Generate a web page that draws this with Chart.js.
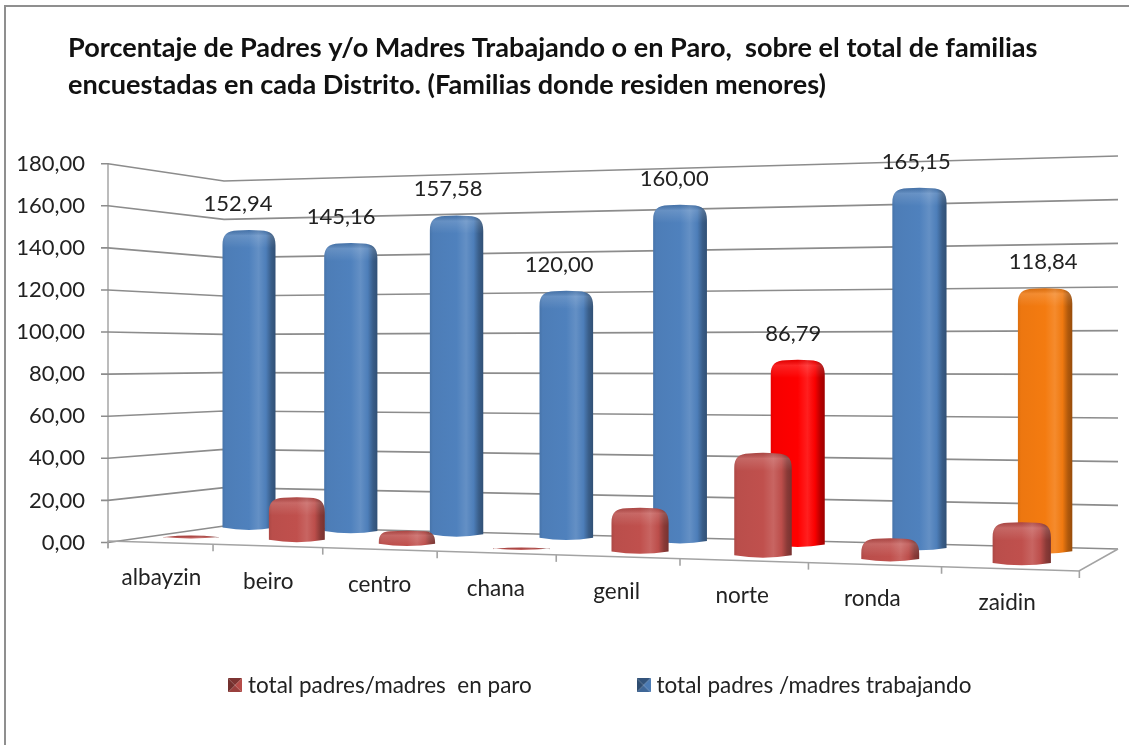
<!DOCTYPE html>
<html><head><meta charset="utf-8">
<style>html,body{margin:0;padding:0;background:#fff}canvas{display:block}</style>
<script src="https://cdn.jsdelivr.net/npm/chart.js@4/dist/chart.umd.min.js"></script>
</head><body><canvas id="c" width="1129" height="745"></canvas>
<script>
const titleLines = ["Porcentaje de Padres y/o Madres Trabajando o en Paro,  sobre el total de familias","encuestadas en cada Distrito. (Familias donde residen menores)"];
const categories = ["albayzin","beiro","centro","chana","genil","norte","ronda","zaidin"];
const paroLabel = "total padres/madres  en paro";
const trabajandoLabel = "total padres /madres trabajando";
const paroValues = [0.9,21,7,0.7,20.5,46,10,18.3];
const trabajandoValues = [152.94,145.16,157.58,120.00,160.00,86.79,165.15,118.84];
const trabajandoColors = ["#4f81bd","#4f81bd","#4f81bd","#4f81bd","#4f81bd","#ff0000","#4f81bd","#f47b10"];
const paroColors = ["#c0504d","#c0504d","#c0504d","#c0504d","#c0504d","#c0504d","#c0504d","#c0504d"];
const yMin = 0, yMax = 180, yStep = 20;

const FONT = "Lato, 'Open Sans', sans-serif";
const TEXT = "#222222";
const fmt = v => v.toFixed(2).replace('.', ',');

// Perspective of the 3D box: each series stands on its own row of the floor.
const rows = [
  {x0:191, dx:103.7, ddx:2.14, base0:538.5, dbase:3.85, k0:2.10, dk:0.035, w0:55.5, dw:0.4},
  {x0:249, dx:99.8,  ddx:1.99, base0:530,   dbase:3.4,  k0:1.96, dk:0.039, w0:53,   dw:0.2}
];
const box = {backX:224, rightBackX:1118, frontRightX:1079,
  backTop:181, backBottom:526, rightTop:156, rightBottom:549, frontLeftBottom:541, frontRightBottom:571};
const tickX = s => 108 + 102.7*s + 2.34*s*s;

function shade(hex, f){
  const n = parseInt(hex.slice(1),16); let c=[n>>16,(n>>8)&255,n&255];
  c = c.map(v => f<1 ? Math.round(v*f) : Math.min(255,Math.round(v+(255-v)*(f-1))));
  return `rgb(${c[0]},${c[1]},${c[2]})`;
}
function cylinder(ctx, el, color){
  const top = el.y, base = el.base, w = el.width, l = el.x-w/2, r = el.x+w/2, h = base-top;
  if (h < 0.5) return;
  const rad = Math.min(15, h*0.75), bow = Math.max(1.5, Math.min(2.5, h*0.2));
  ctx.save();
  ctx.beginPath();
  ctx.moveTo(l, base-bow);
  ctx.lineTo(l, top+rad);
  ctx.bezierCurveTo(l, top+rad*0.3, l+rad*0.3, top+0.6, l+rad, top+0.3);
  ctx.quadraticCurveTo(el.x, top-0.8-(h<4?1.5:0), r-rad, top+0.3);
  ctx.bezierCurveTo(r-rad*0.3, top+0.6, r, top+rad*0.3, r, top+rad);
  ctx.lineTo(r, base-bow);
  ctx.quadraticCurveTo(el.x, base+bow*0.9, l, base-bow);
  ctx.closePath();
  const g = ctx.createLinearGradient(l,0,r,0);
  g.addColorStop(0, shade(color,0.9));
  g.addColorStop(0.06, shade(color,0.97));
  g.addColorStop(0.5, shade(color,1.0));
  g.addColorStop(0.68, shade(color,1.12));
  g.addColorStop(0.82, shade(color,0.98));
  g.addColorStop(0.92, shade(color,0.72));
  g.addColorStop(1, shade(color,0.62));
  ctx.fillStyle = g; ctx.fill();
  ctx.clip();
  const v = ctx.createLinearGradient(0,top,0,top+rad+3);
  v.addColorStop(0,'rgba(0,0,0,0.10)');
  v.addColorStop(0.3,'rgba(255,255,255,0.14)');
  v.addColorStop(1,'rgba(255,255,255,0)');
  ctx.fillStyle = v; ctx.fillRect(l,top-2,w,rad+6);
  ctx.restore();
}
function marker(color){
  const c = document.createElement('canvas'); c.width = 14; c.height = 14;
  const x = c.getContext('2d'), m = 7;
  const tri = (p,col)=>{x.fillStyle=col;x.beginPath();x.moveTo(p[0],p[1]);x.lineTo(p[2],p[3]);x.lineTo(m,m);x.closePath();x.fill();};
  tri([0,0,14,0], shade(color,0.65));
  tri([0,14,14,14], shade(color,0.8));
  tri([0,0,0,14], shade(color,0.6));
  tri([14,0,14,14], shade(color,0.95));
  return c;
}

const scene = {
  id:'scene',
  afterLayout(chart){
    if (chart.titleBlock){ chart.titleBlock.left = 68; }
    if (chart.legend){
      const L = chart.legend;
      L.left = 123.25; L.right = 1129; L.top = 564; L.bottom = 745;
    }
  },
  afterDatasetsUpdate(chart){
    const ys = chart.scales.y, y0 = ys.getPixelForValue(0);
    chart.data.datasets.forEach((ds,di)=>{
      const p = rows[di];
      chart.getDatasetMeta(di).data.forEach((el,i)=>{
        const b = p.base0 + p.dbase*i, k = (p.k0 + p.dk*i) / ((y0 - ys.getPixelForValue(1)));
        el.x = p.x0 + p.dx*i + p.ddx*i*i;
        el.base = b;
        el.y = b - (y0 - ys.getPixelForValue(ds.data[i]))*k;
        el.width = p.w0 + p.dw*i;
      });
    });
  },
  beforeDatasetsDraw(chart){
    const ctx = chart.ctx, ys = chart.scales.y, ca = chart.chartArea, b = box;
    ctx.save();
    // outer frame
    ctx.strokeStyle = '#8f8f8f'; ctx.lineWidth = 2;
    ctx.beginPath(); ctx.moveTo(1129,6); ctx.lineTo(5,6); ctx.lineTo(5,745); ctx.stroke();
    // walls
    ctx.strokeStyle = '#a6a6a6'; ctx.lineWidth = 1.5;
    ctx.beginPath(); ctx.moveTo(ca.left, ca.top); ctx.lineTo(ca.left, ca.bottom+6); ctx.stroke();
    ctx.strokeStyle = '#8c8c8c'; ctx.lineWidth = 1.6;
    ys.ticks.forEach(t=>{
      const f = (t.value-yMin)/(yMax-yMin);
      ctx.beginPath();
      ctx.moveTo(ca.left-7, ys.getPixelForValue(t.value));
      ctx.lineTo(ca.left, ys.getPixelForValue(t.value));
      ctx.lineTo(b.backX, b.backBottom + (b.backTop-b.backBottom)*f);
      ctx.lineTo(b.rightBackX, b.rightBottom + (b.rightTop-b.rightBottom)*f);
      ctx.stroke();
    });
    // floor
    ctx.strokeStyle = '#a3a3a3';
    ctx.beginPath();
    ctx.moveTo(ca.left, b.frontLeftBottom);
    ctx.lineTo(b.frontRightX, b.frontRightBottom);
    ctx.lineTo(b.rightBackX, b.rightBottom);
    ctx.stroke();
    categories.concat(['']).forEach((_,s)=>{
      const x = tickX(s), y = b.frontLeftBottom + (x-ca.left)*(b.frontRightBottom-b.frontLeftBottom)/(b.frontRightX-ca.left);
      ctx.beginPath(); ctx.moveTo(x,y); ctx.lineTo(x,y+7); ctx.stroke();
    });
    // category labels
    ctx.fillStyle = TEXT; ctx.font = `22.5px ${FONT}`; ctx.textAlign='center'; ctx.textBaseline='middle';
    const xs = chart.scales.x;
    categories.forEach((_,i)=>{
      const s = i+0.5, x = tickX(s) + 1.5 - 0.6*i, y = 578 + 3.5*i;
      ctx.fillText(xs.getLabelForValue(i), x, y);
    });
    ctx.restore();
  },
  beforeDatasetDraw(chart,args){
    const ds = chart.data.datasets[args.index];
    args.meta.data.forEach((el,i)=>cylinder(chart.ctx, el, ds.backgroundColor[i]));
    return false;
  },
  afterDatasetsDraw(chart){
    const ctx = chart.ctx, meta = chart.getDatasetMeta(1), ds = chart.data.datasets[1];
    ctx.save();
    ctx.fillStyle = TEXT; ctx.font = `22px ${FONT}`; ctx.textAlign='center'; ctx.textBaseline='middle';
    meta.data.forEach((el,i)=>ctx.fillText(fmt(ds.data[i]), el.x-11+1.3*i, el.y-26.5));
    ctx.restore();
  }
};

const markers = [marker(paroColors[0]), marker(trabajandoColors[0])];
new Chart(document.getElementById('c'),{
  type:'bar',
  data:{labels:categories, datasets:[
    {label:paroLabel, data:paroValues, backgroundColor:paroColors},
    {label:trabajandoLabel, data:trabajandoValues, backgroundColor:trabajandoColors}
  ]},
  plugins:[scene],
  options:{
    responsive:false, animation:false, events:[],
    layout:{padding:{left:18,right:11,top:0,bottom:52}},
    scales:{
      x:{grid:{display:false},border:{display:false},ticks:{display:false}},
      y:{min:yMin,max:yMax,grid:{display:false,drawTicks:false},border:{display:false},
         afterFit(s){ s.width = 90; },
         ticks:{stepSize:yStep,padding:23,color:TEXT,font:{family:FONT,size:22},callback:v=>fmt(v)}}
    },
    plugins:{
      title:{display:true,text:titleLines,align:'start',color:'#111',
        font:{family:FONT,size:27.1,weight:'bold',lineHeight:1.36},padding:{top:30,bottom:60}},
      legend:{position:'bottom',align:'start',labels:{
        color:TEXT,font:{family:FONT,size:22.5},usePointStyle:true,boxWidth:3.5,padding:110,
        generateLabels(chart){
          const items = Chart.defaults.plugins.legend.labels.generateLabels(chart);
          items.forEach((it,i)=>{it.pointStyle = markers[i];});
          return items;
        }}},
      tooltip:{enabled:false}
    }
  }
});
</script></body></html>
